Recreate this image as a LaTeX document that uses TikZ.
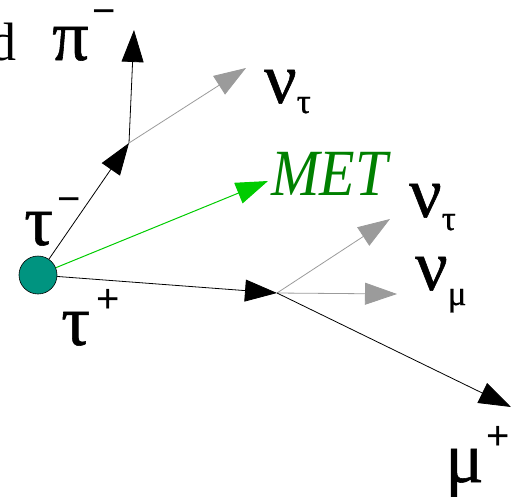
\documentclass[tikz,border=0pt]{standalone}
\usepackage{fontspec}
\setmainfont{Liberation Serif}
\newfontfamily\sansf{Liberation Sans}
\newfontfamily\greekf[FakeBold=0.8]{Liberation Serif}
\usetikzlibrary{arrows.meta}
\definecolor{teal1}{RGB}{0,148,128}
\definecolor{metline}{RGB}{0,204,0}
\definecolor{mettext}{RGB}{0,128,0}
\definecolor{nugray}{RGB}{155,155,155}
\newcommand\bigf{\greekf\fontsize{72}{72}\selectfont}
\newcommand\subf{\greekf\fontsize{35}{35}\selectfont}
\newcommand\supf{\sansf\fontsize{40}{40}\selectfont}
\begin{document}
\begin{tikzpicture}[x=1pt,y=-1pt,
  lab/.style={inner sep=0pt,anchor=base west},
  tip/.style={-{Triangle[length=32pt,width=22pt]}},
  part/.style={tip,draw=black,line width=0.8pt},
  nu/.style={tip,draw=nugray,line width=0.8pt},
  met/.style={tip,draw=metline,line width=1pt}]
\useasboundingbox (0,0) rectangle (514,496);
\node[circle,draw=black,line width=0.6pt,fill=teal1,minimum size=38pt,inner sep=0pt] (c) at (38,275) {};
\coordinate (v1) at (129,143);
\coordinate (v2) at (277,293);
\coordinate (pi) at (134,30);
\coordinate (nt1) at (246,68);
\coordinate (met) at (268,181);
\coordinate (nt2) at (390,219);
\coordinate (nm) at (397,294);
\coordinate (mu) at (511,407);
\draw[part] (c) -- (v1);
\draw[part] (v1) -- (pi);
\draw[nu] (v1) -- (nt1);
\draw[met] (c) -- (met);
\draw[part] (c) -- (v2);
\draw[nu] (v2) -- (nt2);
\draw[nu] (v2) -- (nm);
\draw[part] (v2) -- (mu);
% labels
\node[inner sep=0pt,anchor=base east] (dl) at (17,60) {\fontsize{54}{54}\selectfont d};
\node[lab] (pil) at (52,60) {\bigf π\kern4pt\raisebox{36pt}{\supf −}};
\node[lab] (nt1l) at (264,103) {\bigf ν\kern0pt\raisebox{-10pt}{\subf τ}};
\node[lab,text=mettext,xscale=0.88] (metl) at (271,195) {\fontsize{66}{66}\selectfont\itshape MET};
\node[lab] (nt2l) at (409,217) {\bigf ν\kern0pt\raisebox{-13pt}{\subf τ}};
\node[lab] (nml) at (415,290) {\bigf ν\kern0pt\raisebox{-15pt}{\subf μ}};
\node[lab] (taum) at (24,245) {\bigf τ\kern4pt\raisebox{33pt}{\supf −}};
\node[lab] (taup) at (61,345) {\bigf τ\kern6pt\raisebox{33pt}{\supf +}};
\node[lab] (mul) at (445,482) {\bigf μ\kern3pt\raisebox{33pt}{\supf +}};
\end{tikzpicture}
\end{document}
